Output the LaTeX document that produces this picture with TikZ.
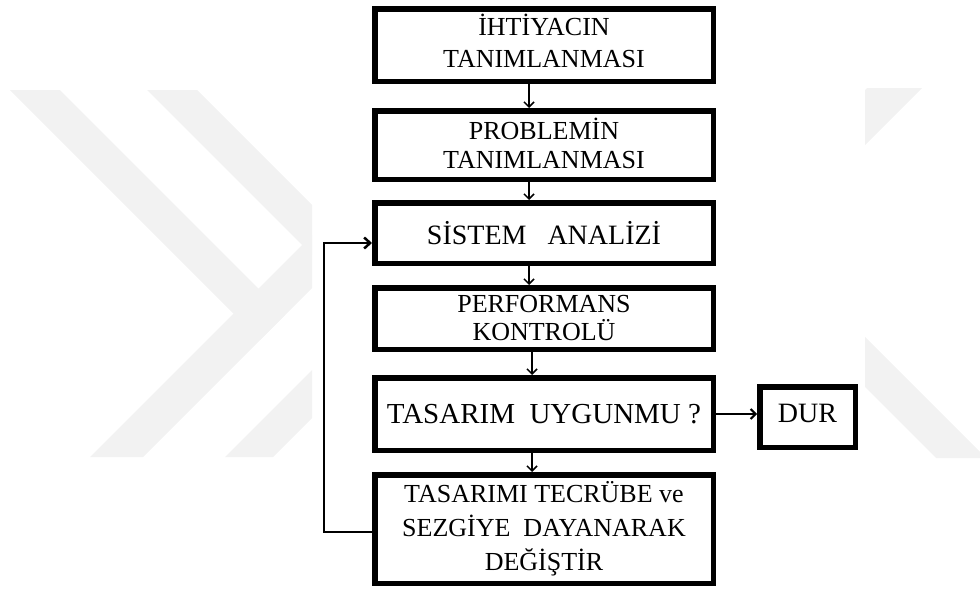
\documentclass[tikz,border=0pt]{standalone}
\usepackage{fontspec}
\setmainfont{Liberation Serif}
\usetikzlibrary{arrows.meta}
\begin{document}
\begin{tikzpicture}[x=1pt,y=-1pt,
  box/.style={draw, line width=5.5pt, minimum width=338.5pt, inner sep=0pt, fill=white},
  lbl/.style={inner sep=0pt, align=center},
  arr/.style={line width=1.5pt, -{Straight Barb[length=5pt,width=10pt]}},
  fbarr/.style={line width=2.5pt, -{Straight Barb[length=6pt,width=11pt]}},
  wm/.style={fill=black!5, draw=none}]
\useasboundingbox (0,0) rectangle (980,589);
% watermark (left part)
\begin{scope}
  \clip (0,0) rectangle (312,589);
  \fill[wm] (10,90) -- (60,90) -- (285,315) -- (260,340) -- cycle;
  \fill[wm] (147,90) -- (197,90) -- (354,247) -- (329,272) -- cycle;
  \fill[wm] (90,457) -- (143,457) -- (443,157) -- (390,157) -- cycle;
  \fill[wm] (225,457) -- (273,457) -- (473,257) -- (425,257) -- cycle;
\end{scope}
% watermark (right part)
\begin{scope}
  \clip (865,0) rectangle (980,589);
  \fill[wm] (867,88) -- (922,88) -- (700,310) -- (645,310) -- cycle;
  \fill[wm] (936,458) -- (986,458) -- (786,258) -- (736,258) -- cycle;
\end{scope}
% boxes
\node[box, minimum height=72.5pt] (b1) at (544,45) {};
\node[box, minimum height=68.5pt] (b2) at (544,145) {};
\node[box, minimum height=60.5pt] (b3) at (544,233) {};
\node[box, minimum height=61.5pt] (b4) at (544,318.5) {};
\node[box, minimum height=72.5pt] (b5) at (544,414) {};
\node[box, minimum height=108.5pt] (b6) at (544,529) {};
\node[box, minimum width=95.5pt, minimum height=60.5pt] (dur) at (807.5,417) {};
% texts
\node[lbl, font=\fontsize{26}{32}\selectfont] (t1) at ([yshift=4pt]b1.center) {İHTİYACIN\\TANIMLANMASI};
\node[lbl, font=\fontsize{26}{29}\selectfont] (t2) at ([yshift=2pt]b2.center) {PROBLEMİN\\TANIMLANMASI};
\node[lbl, font=\fontsize{28}{32}\selectfont] (t3) at (b3.center) {SİSTEM\ \ \ ANALİZİ};
\node[lbl, font=\fontsize{26}{28}\selectfont] (t4) at (b4.center) {PERFORMANS\\KONTROLÜ};
\node[lbl, font=\fontsize{29}{32}\selectfont] (t5) at (b5.center) {TASARIM\ \ UYGUNMU ?};
\node[lbl, font=\fontsize{26}{34}\selectfont] (t6) at (b6.center) {TASARIMI TECRÜBE ve\\SEZGİYE\ \ DAYANARAK\\DEĞİŞTİR};
\node[lbl, font=\fontsize{28}{32}\selectfont] (t7) at ([yshift=4pt]dur.center) {DUR};
% connectors
\coordinate (ax1) at (529,0);
\coordinate (ax2) at (532,0);
\draw[arr] (b1.south -| ax1) -- (b2.north -| ax1);
\draw[arr] (b2.south -| ax1) -- (b3.north -| ax1);
\draw[arr] (b3.south -| ax1) -- (b4.north -| ax1);
\draw[arr] (b4.south -| ax2) -- (b5.north -| ax2);
\draw[arr] (b5.south -| ax2) -- (b6.north -| ax2);
\draw[arr, line width=2pt] (b5.east) -- (b5.east -| dur.west);
\coordinate (fbc) at (324,243);
\draw[fbarr] ([yshift=-3pt]b6.west) -| (fbc) -- ([yshift=-10pt]b3.west);
\end{tikzpicture}
\end{document}
